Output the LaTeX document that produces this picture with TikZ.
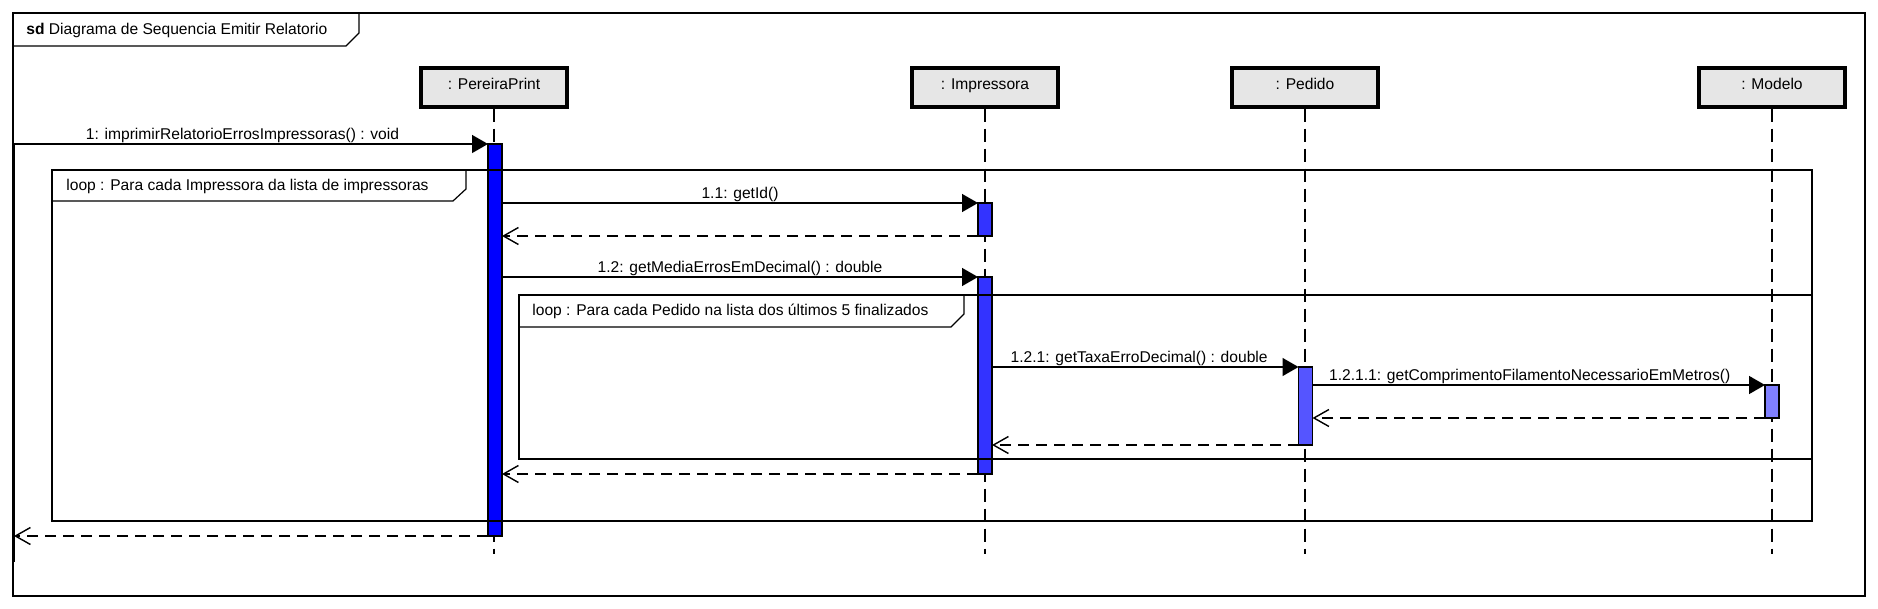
\documentclass[tikz,border=0pt]{standalone}
\usepackage{fontspec}
\setmainfont{Liberation Sans}
\usetikzlibrary{arrows.meta}
\definecolor{boxgray}{HTML}{E6E6E6}
\definecolor{actA}{HTML}{0000FF}
\definecolor{actB}{HTML}{3333FF}
\definecolor{actC}{HTML}{5555FF}
\definecolor{actD}{HTML}{8080FF}
\begin{document}
\begin{tikzpicture}[x=0.5pt,y=-0.5pt,
  font=\fontsize{7.8pt}{9.5pt}\selectfont,
  frame/.style={draw=black, line width=0.6pt},
  lifebox/.style={draw=black, line width=1.6pt, fill=boxgray, minimum width=73pt, minimum height=19.5pt, inner sep=0pt, text height=8pt, text depth=5.8pt},
  lifeline/.style={draw=black, line width=0.6pt, dash pattern=on 6.5pt off 3.5pt},
  act/.style={draw=black, line width=0.6pt, minimum width=7pt, inner sep=0pt, outer sep=0pt},
  msg/.style={draw=black, line width=0.7pt, -{Triangle[length=8pt,width=9pt]}},
  ret/.style={draw=black, line width=0.7pt, dash pattern=on 5.5pt off 3.5pt, -{Straight Barb[length=7.5pt,width=8.5pt]}},
  lbl/.style={anchor=base, yshift=2.2pt, inner sep=0pt},
  tablbl/.style={anchor=west, inner sep=0pt}
]
\useasboundingbox (0,0) rectangle (1878,609);
% outer frame
\draw[frame] (13,13) rectangle (1865,596);
\draw[frame] (13,46) -- (346,46) -- (359,33) -- (359,13);
\node[tablbl] (title) at (26,30) {\textbf{sd} Diagrama de Sequencia Emitir Relatorio};

% lifeline heads
\node[lifebox] (pp)  at (494,87.5)  {: PereiraPrint};
\node[lifebox] (imp) at (985,87.5)  {: Impressora};
\node[lifebox] (ped) at (1305,87.5) {: Pedido};
\node[lifebox] (mod) at (1772,87.5) {: Modelo};

\coordinate (ppend)  at (494,554);
\coordinate (impend) at (985,554);
\coordinate (pedend) at (1305,554);
\coordinate (modend) at (1772,554);
\draw[lifeline] (pp.south) -- (ppend);
\draw[lifeline] (imp.south) -- (impend);
\draw[lifeline] (ped.south) -- (pedend);
\draw[lifeline] (mod.south) -- (modend);

% activations
\node[act, fill=actA, minimum height=196pt] (a0) at (495,340) {};
\node[act, fill=actB, minimum height=16.5pt] (a1) at (985,219.5) {};
\node[act, fill=actB, minimum height=98.5pt] (a2) at (985,375.5) {};
\node[act, fill=actC, minimum height=39pt] (a3) at (1305.5,406) {};
\node[act, fill=actD, minimum height=16.5pt] (a4) at (1772,401.5) {};

% found message origin
\draw[line width=1.5pt] (13.5,144) -- (13.5,562);
\coordinate (src) at (14,144);
\coordinate (srcret) at (14,536);

% messages
\draw[msg] (src) -- node[lbl, pos=0.482] {1: imprimirRelatorioErrosImpressoras() : void} (a0.north west);
\draw[msg] (a0.east |- a1.north) -- node[lbl] {1.1: getId()} (a1.north west);
\draw[ret] (a1.south west) -- (a0.east |- a1.south);
\draw[msg] (a0.east |- a2.north) -- node[lbl] {1.2: getMediaErrosEmDecimal() : double} (a2.north west);
\draw[msg] (a2.east |- a3.north) -- node[lbl, pos=0.48] {1.2.1: getTaxaErroDecimal() : double} (a3.north west);
\draw[msg] (a3.east |- a4.north) -- node[lbl, pos=0.48] {1.2.1.1: getComprimentoFilamentoNecessarioEmMetros()} (a4.north west);
\draw[ret] (a4.south west) -- (a3.east |- a4.south);
\draw[ret] (a3.south west) -- (a2.east |- a3.south);
\draw[ret] (a2.south west) -- (a0.east |- a2.south);
\draw[ret] (a0.south west) -- (srcret);

% loop fragments
\draw[frame] (52,170) rectangle (1812,521);
\draw[frame] (52,201) -- (453,201) -- (466,189) -- (466,170);
\node[tablbl] (loop1) at (66,186) {loop : Para cada Impressora da lista de impressoras};
\draw[frame] (519,295) rectangle (1812,459);
\draw[frame] (519,327) -- (951,327) -- (964,314) -- (964,295);
\node[tablbl] (loop2) at (532,311) {loop : Para cada Pedido na lista dos últimos 5 finalizados};
\end{tikzpicture}
\end{document}
